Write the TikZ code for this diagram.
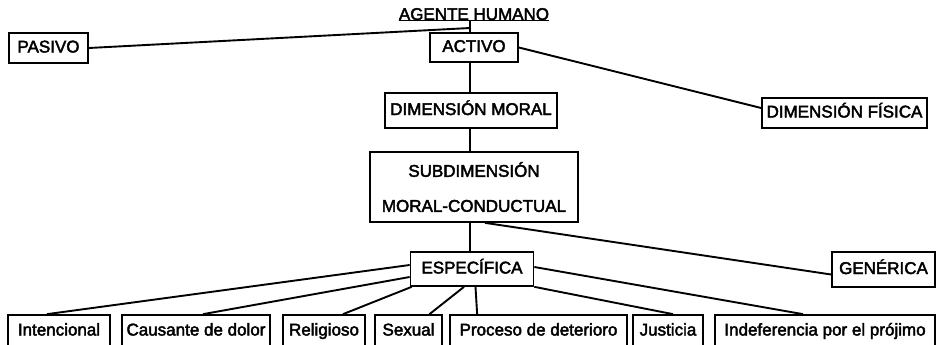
\documentclass[tikz,border=0pt]{standalone}
\usepackage{fontspec}
\setmainfont{Liberation Sans}
\newfontfamily\boxfont{Liberation Sans}[FakeBold=2.5]
\begin{document}
\begin{tikzpicture}[
          x=1pt, y=-1pt,
        box/.style={draw, line width=1.7pt, inner xsep=3pt, inner ysep=0pt,
          text height=12.5pt, text depth=3.5pt,
          font=\boxfont\fontsize{17}{20}\selectfont},
        link/.style={line width=1.9pt},
        leaf/.style={box, minimum height=32pt}
      ]
      \useasboundingbox (0,0) rectangle (940,345);

      \node[inner sep=0pt, anchor=base, font=\boxfont\fontsize{17}{20}\selectfont] (agente) at (474,20) {AGENTE HUMANO};
      \draw[line width=1.6pt] (agente.south west) -- (agente.south east);
      \coordinate (hub) at (470,28);

      \node[box, minimum width=79pt, minimum height=30pt] (pasivo) at (48.5,48) {PASIVO};
      \node[box, minimum width=88pt, minimum height=29pt] (activo) at (474,47.5) {ACTIVO};
      \node[box, minimum width=172pt, minimum height=35pt] (moral) at (471,110.5) {DIMENSIÓN MORAL};
      \node[box, minimum width=165pt, minimum height=30pt] (fisica) at (844.5,113) {DIMENSIÓN FÍSICA};
      \node[box, minimum width=208pt, minimum height=70pt, align=center, text height=, text depth=,
        font=\boxfont\fontsize{17}{35}\selectfont] (subdim) at (474,187) {SUBDIMENSIÓN\\MORAL-CONDUCTUAL};
      \node[box, minimum width=123pt, minimum height=34pt] (especifica) at (472,269) {ESPECÍFICA};
      \node[box, minimum width=103pt, minimum height=35pt] (generica) at (883.5,269.5) {GENÉRICA};

      \node[leaf, minimum width=102pt] (intencional) at (59,331) {Intencional};
      \node[leaf, minimum width=148pt] (dolor) at (196,331) {Causante de dolor};
      \node[leaf, minimum width=82pt] (religioso) at (324,331) {Religioso};
      \node[leaf, minimum width=67pt] (sexual) at (408.5,331) {Sexual};
      \node[leaf, minimum width=177pt] (deterioro) at (538.5,331) {Proceso de deterioro};
      \node[leaf, minimum width=70pt] (justicia) at (668,331) {Justicia};
      \node[leaf, minimum width=220pt] (projimo) at (825,331) {Indeferencia por el prójimo};

      \draw[link] (hub |- agente.south) -- (hub |- activo.north);
      \draw[link] (pasivo.east) -- (hub);
      \draw[link] (hub |- activo.south) -- (hub |- moral.north);
      \draw[link] (activo.east) -- ([yshift=5pt]fisica.west);
      \draw[link] (hub |- moral.south) -- (hub |- subdim.north);
      \draw[link] (hub |- subdim.south) -- (hub |- especifica.north);
      \draw[link] ([xshift=11pt]subdim.south) -- ([yshift=-5pt]generica.west);

      \draw[link] ([yshift=4pt]especifica.west) -- ([xshift=-12pt]intencional.north);
      \draw[link] ([yshift=-8pt]especifica.west) -- ([xshift=7pt]dolor.north);
      \draw[link] ([xshift=2pt]especifica.south west) -- ([xshift=19pt]religioso.north);
      \draw[link] ([xshift=-8pt]especifica.south) -- ([xshift=21pt]sexual.north);
      \draw[link] ([xshift=3.5pt]especifica.south) -- ([xshift=28pt]deterioro.north west);
      \draw[link] (especifica.south east) -- ([xshift=5pt]justicia.north);
      \draw[link] ([yshift=2pt]especifica.east) -- ([xshift=-22pt]projimo.north);
    \end{tikzpicture}
\end{document}
